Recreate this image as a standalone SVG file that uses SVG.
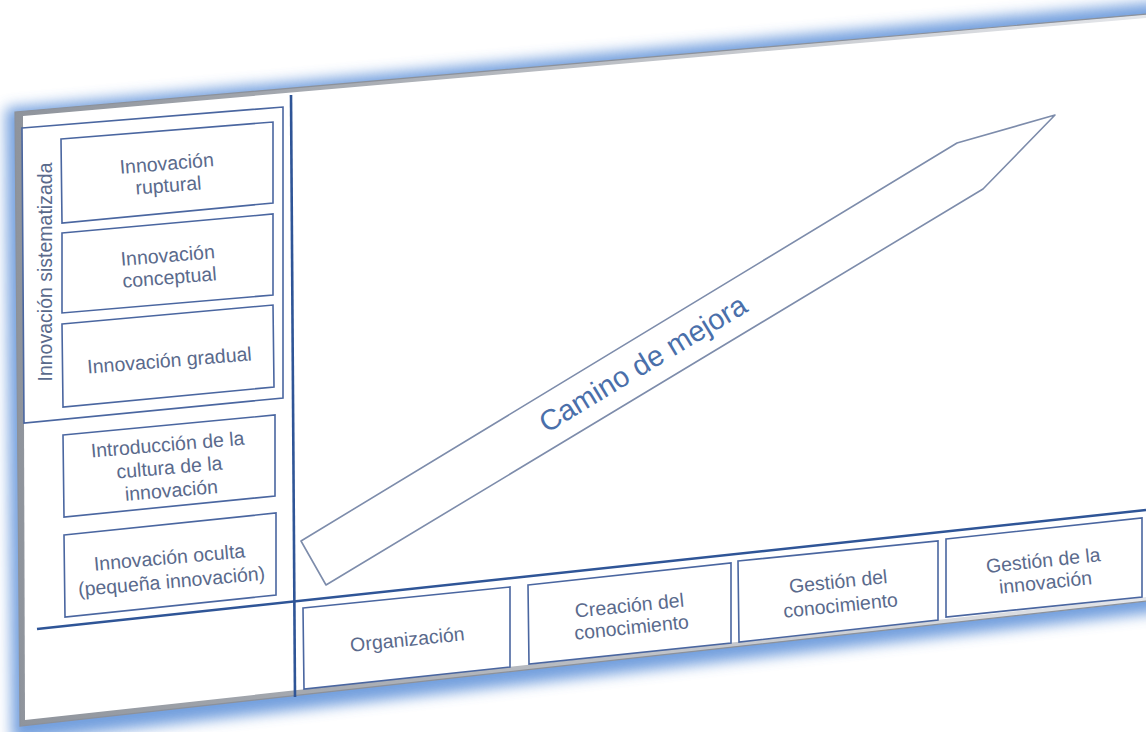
<svg xmlns="http://www.w3.org/2000/svg" width="1146" height="732" viewBox="0 0 1146 732">
  <style>
    .box { fill: #ffffff; stroke: #4a66a0; stroke-width: 1.6; }
    .lbl { font-family: "Liberation Sans", Arial, sans-serif; font-size: 19.5px; fill: #5a6a8c; text-anchor: middle; }
    .div { stroke: #2f5597; stroke-width: 2.6; fill: none; }
    .arrow { fill: #ffffff; stroke: #7d8cab; stroke-width: 1.6; stroke-linejoin: round; }
    .big { font-family: "Liberation Sans", Arial, sans-serif; font-size: 29px; fill: #4a6faa; text-anchor: middle; }
  </style>
  <defs>
    <filter id="glow" x="-10%" y="-20%" width="120%" height="140%">
      <feGaussianBlur stdDeviation="7"/>
    </filter>
    <linearGradient id="bevel" x1="0" y1="0" x2="1" y2="0">
      <stop offset="0" stop-color="#8f949c"/>
      <stop offset="1" stop-color="#e4e6ea"/>
    </linearGradient>
  </defs>

  <rect width="1146" height="732" fill="#ffffff"/>

  <!-- panel frame -->
  <g id="panel">
    <polygon points="6,108 1160,2 1160,612 12,742" fill="#5b8fd8" filter="url(#glow)" opacity="0.85"/>
    <polygon points="15,112 1148,14 1148,601 20,726" fill="url(#bevel)" stroke="#8c919a" stroke-width="1.2"/>
    <polygon points="23,116 1146,18 1146,597 25,720" fill="#ffffff"/>
  </g>

  <!-- dividers -->
  <g id="dividers">
    <line class="div" x1="291" y1="95" x2="295" y2="697"/>
    <line class="div" x1="37" y1="629" x2="1146" y2="510"/>
  </g>

  <!-- left column -->
  <g id="innovacion-sistematizada">
    <polygon class="box" points="22,128 283,107 283,398 24,423"/>
    <text class="lbl" x="52" y="272" transform="rotate(-90 52 272)">Innovación sistematizada</text>
  </g>
  <g id="innovacion-ruptural">
    <polygon class="box" points="61,139 273,122 273,203 62,223"/>
    <text class="lbl" transform="rotate(-4.6 168 180)"><tspan x="168" y="170">Innovación</tspan><tspan x="168" y="192">ruptural</tspan></text>
  </g>
  <g id="innovacion-conceptual">
    <polygon class="box" points="62,233 273,214 273,295 62,313"/>
    <text class="lbl" transform="rotate(-4.6 169 272)"><tspan x="169" y="262">Innovación</tspan><tspan x="169" y="284">conceptual</tspan></text>
  </g>
  <g id="innovacion-gradual">
    <polygon class="box" points="62,324 273,305 274,387 63,407"/>
    <text class="lbl" x="170" y="367" transform="rotate(-4.6 170 367)">Innovación gradual</text>
  </g>
  <g id="introduccion-cultura">
    <polygon class="box" points="63,435 275,415 275,496 64,517"/>
    <text class="lbl" transform="rotate(-4.8 170 474)"><tspan x="170" y="451">Introducción de la</tspan><tspan x="170" y="474">cultura de la</tspan><tspan x="170" y="497">innovación</tspan></text>
  </g>
  <g id="innovacion-oculta">
    <polygon class="box" points="64,535 276,513 276,595 65,617"/>
    <text class="lbl" transform="rotate(-5 171 575)"><tspan x="171" y="564">Innovación oculta</tspan><tspan x="171" y="588">(pequeña innovación)</tspan></text>
  </g>

  <!-- bottom row -->
  <g id="organizacion">
    <polygon class="box" points="303,608 510,587 510,667 304,689"/>
    <text class="lbl" x="408" y="646" transform="rotate(-5.8 408 646)">Organización</text>
  </g>
  <g id="creacion-conocimiento">
    <polygon class="box" points="528,585 731,563 731,643 529,664"/>
    <text class="lbl" transform="rotate(-5.8 631 622)"><tspan x="631" y="612">Creación del</tspan><tspan x="631" y="634">conocimiento</tspan></text>
  </g>
  <g id="gestion-conocimiento">
    <polygon class="box" points="738,561 938,541 938,620 739,642"/>
    <text class="lbl" transform="rotate(-5.8 840 600)"><tspan x="840" y="588">Gestión del</tspan><tspan x="840" y="612">conocimiento</tspan></text>
  </g>
  <g id="gestion-innovacion">
    <polygon class="box" points="946,539 1142,518 1142,597 946,617"/>
    <text class="lbl" transform="rotate(-6 1045 578)"><tspan x="1045" y="567">Gestión de la</tspan><tspan x="1045" y="589">innovación</tspan></text>
  </g>

  <!-- improvement path arrow -->
  <g id="connectors">
    <g id="camino-de-mejora">
      <polygon class="arrow" points="301,541 957,143 1055,115 983,189 326,585"/>
      <text class="big" x="648" y="372" transform="rotate(-31.2 648 372)">Camino de mejora</text>
    </g>
  </g>
</svg>
